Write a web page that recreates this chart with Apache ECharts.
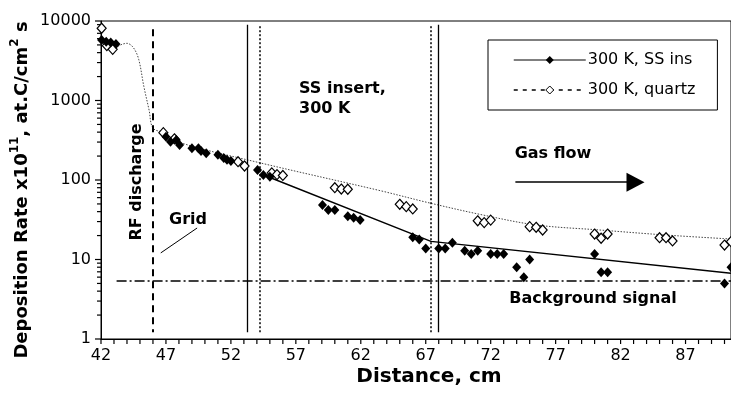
<!DOCTYPE html>
<html><head><meta charset="utf-8">
<script src="https://cdn.jsdelivr.net/npm/echarts@6/dist/echarts.min.js"></script>
<style>html,body{margin:0;padding:0;background:#fff}#c{width:731px;height:396px}</style>
</head><body><div id="c"></div>
<script>
// ---- data ----
const xTickLabels = [42, 47, 52, 57, 62, 67, 72, 77, 82, 87];
const yTickLabels = [1, 10, 100, 1000, 10000];

const ssInsX = [42.05, 42.4, 42.75, 43.15, 47.0, 47.35, 47.8, 48.05, 49.0, 49.5, 49.7, 50.1, 51.0, 51.45, 51.7, 52.0, 54.05, 54.5, 55.0, 59.05, 59.5, 60.0, 61.0, 61.45, 61.95, 66.0, 66.5, 67.0, 68.0, 68.5, 69.05, 70.0, 70.5, 71.0, 72.0, 72.5, 73.0, 74.0, 74.55, 75.0, 80.0, 80.5, 81.0, 90.0, 90.5];
const ssInsY = [5770, 5500, 5360, 5140, 351, 303, 318, 275, 251, 251, 232, 217, 208, 189, 180, 173, 134, 116, 110, 48.5, 42, 42, 35, 33.5, 31.5, 19.0, 17.9, 13.8, 13.8, 13.8, 16.2, 12.9, 11.7, 12.9, 11.7, 11.7, 11.7, 8.0, 6.0, 10.0, 11.7, 6.9, 6.9, 5.0, 8.0];

const quartzX = [42.05, 42.45, 42.9, 46.8, 47.65, 52.55, 53.05, 55.15, 55.55, 56.0, 60.0, 60.5, 61.0, 65.0, 65.5, 66.0, 71.0, 71.5, 72.0, 75.0, 75.5, 76.0, 80.0, 80.5, 81.0, 85.0, 85.5, 86.0, 90.0, 90.5];
const quartzY = [8090, 4900, 4400, 394, 330, 170, 150, 123, 117, 114, 80, 77, 76.5, 49.5, 46.2, 43.2, 30.7, 29.1, 31.3, 25.9, 25.4, 23.5, 20.9, 18.5, 20.9, 18.8, 18.8, 17.1, 15.2, 16.8];

const ssFitX = [55.1, 67.4, 90.5];
const ssFitY = [106, 16.9, 6.7];

const quartzFitX = [42.9, 43.5, 44.0, 44.5, 44.9, 45.3, 45.7, 46.0, 46.8, 48.1, 54.2, 63.5, 67.3, 71.4, 75.5, 80.4, 85.5, 90.5];
const quartzFitY = [4400, 5000, 5240, 4600, 3300, 1500, 760, 450, 394, 295, 165, 73.4, 51.4, 36.3, 27.2, 23.5, 20.3, 18.1];

// annotation positions (data units)
const rfGridX = 46.0;
const ssInsertStartSolidX = 53.25;
const ssInsertStartDotX = 54.25;
const ssInsertEndDotX = 67.35;
const ssInsertEndSolidX = 68.0;
const backgroundLevel = 5.37;
const gasFlowArrow = { x0: 73.9, x1: 83.15, y: 94 };
const gridPointer = { x0: 46.6, y0: 12.1, x1: 49.4, y1: 24.9 };

// ---- helpers ----
const zip = (a, b) => a.map((v, i) => [v, b[i]]);
const xMinorTicks = [];
for (let v = 42; v <= 90; v++) xMinorTicks.push(v);
const yMinorTicks = [];
[1, 10, 100, 1000].forEach(d => { for (let k = 2; k <= 9; k++) yMinorTicks.push(d * k); });

const FONT = 'DejaVu Sans';
const black = '#000';
const vTop = 9000, vBot = 1.22;

const chart = echarts.init(document.getElementById('c'), null, { renderer: 'canvas' });

const boldText = (txt, x, y, align, size, rot) => ({
  type: 'text', x: x, y: y, rotation: rot || 0,
  style: { text: txt, fill: black, font: 'bold ' + (size || 16) + 'px "' + FONT + '"', textAlign: align || 'center', textVerticalAlign: 'middle' }
});

const textGraphic = [
  boldText('SS insert,', 299, 89, 'left'),
  boldText('300 K', 299, 109, 'left'),
  boldText('RF discharge', 137, 182, 'center', 16, Math.PI / 2),
  boldText('Grid', 188, 220),
  boldText('Gas flow', 553, 154),
  boldText('Background signal', 593, 299),
  boldText('Distance, cm', 429, 377, 'center', 20),
  {
    type: 'text', x: 20, y: 190, rotation: Math.PI / 2,
    style: {
      text: '{b|Deposition Rate x10}{s|11}{b|, at.C/cm}{s|2}{b| s}',
      textAlign: 'center', textVerticalAlign: 'middle', fill: black,
      rich: {
        b: { fontFamily: FONT, fontWeight: 'bold', fontSize: 18, lineHeight: 22, verticalAlign: 'bottom', fill: black },
        s: { fontFamily: FONT, fontWeight: 'bold', fontSize: 12, lineHeight: 22, verticalAlign: 'top', fill: black }
      }
    }
  }
];

chart.setOption({
  backgroundColor: '#fff',
  animation: false,
  grid: { left: 101, right: -1, top: 21, bottom: 57, show: true, borderColor: black, borderWidth: 1, backgroundColor: 'transparent' },
  legend: {
    left: 488, top: 40, orient: 'vertical',
    padding: [12, 22, 12, 25], itemGap: 14,
    itemWidth: 72, itemHeight: 10,
    borderColor: black, borderWidth: 1, backgroundColor: '#fff',
    selectedMode: false,
    textStyle: { fontFamily: FONT, fontSize: 16, color: black, padding: [0, 0, 0, -3] },
    data: [
      { name: '300 K, SS ins', itemStyle: { color: black }, lineStyle: { type: 'solid', width: 1, color: black, opacity: 1 } },
      { name: '300 K, quartz', itemStyle: { color: '#fff', borderColor: black, borderWidth: 1 }, lineStyle: { type: [4, 5], width: 1.5, color: black, opacity: 1 } }
    ]
  },
  xAxis: {
    type: 'value', min: 42, max: 90.5,
    axisLine: { lineStyle: { color: black, width: 1 } },
    axisTick: { show: false },
    axisLabel: { customValues: xTickLabels, fontFamily: FONT, fontSize: 16, color: black, margin: 9 },
    splitLine: { show: false }
  },
  yAxis: {
    type: 'log', min: 1, max: 10000, logBase: 10,
    axisLine: { show: true, lineStyle: { color: black, width: 1 } },
    axisTick: { show: false },
    axisLabel: { customValues: yTickLabels, formatter: v => String(Math.round(v)), fontFamily: FONT, fontSize: 16, color: black, margin: 10 },
    splitLine: { show: false }
  },
  series: [
    {
      name: '300 K, SS ins', type: 'line', data: zip(ssInsX, ssInsY),
      symbol: 'diamond', symbolSize: [9, 10], showAllSymbol: true,
      itemStyle: { color: black }, lineStyle: { width: 0, opacity: 0 }, z: 6
    },
    {
      name: '300 K, quartz', type: 'line', data: zip(quartzX, quartzY),
      symbol: 'diamond', symbolSize: [9, 10], showAllSymbol: true,
      itemStyle: { color: '#fff', borderColor: black, borderWidth: 1.2 }, lineStyle: { width: 0, opacity: 0 }, z: 5
    },
    {
      name: 'ssFit', type: 'line', data: zip(ssFitX, ssFitY), showSymbol: false, silent: true,
      lineStyle: { color: black, width: 1.4, type: 'solid' }, z: 3
    },
    {
      name: 'quartzFit', type: 'line', data: zip(quartzFitX, quartzFitY), showSymbol: false, silent: true, smooth: 0.35,
      lineStyle: { color: '#444', width: 1, type: [1.5, 1.5] }, z: 3
    },
    {
      name: 'xTicks', type: 'custom', clip: false, data: xMinorTicks.map(v => [v, 1]),
      renderItem: function (params, api) {
        const p = api.coord([api.value(0), api.value(1)]);
        return { type: 'line', shape: { x1: p[0], y1: p[1], x2: p[0], y2: p[1] + 5 }, style: { stroke: black, lineWidth: 1.2 } };
      }
    },
    {
      name: 'annotations', type: 'line', data: [], silent: true, z: 4,
      markLine: {
        silent: true, symbol: 'none', label: { show: false }, animation: false,
        data: [
          [{ coord: [rfGridX, 7900], lineStyle: { color: black, width: 2, type: [7, 5] } }, { coord: [rfGridX, vBot] }],
          [{ coord: [ssInsertStartSolidX, vTop], lineStyle: { color: black, width: 1.3, type: 'solid' } }, { coord: [ssInsertStartSolidX, vBot] }],
          [{ coord: [ssInsertStartDotX, 8600], lineStyle: { color: black, width: 1.5, type: [2, 2] } }, { coord: [ssInsertStartDotX, vBot] }],
          [{ coord: [ssInsertEndDotX, 8600], lineStyle: { color: black, width: 1.5, type: [2, 2] } }, { coord: [ssInsertEndDotX, vBot] }],
          [{ coord: [ssInsertEndSolidX, vTop], lineStyle: { color: black, width: 1.3, type: 'solid' } }, { coord: [ssInsertEndSolidX, vBot] }],
          [{ coord: [43.2, backgroundLevel], lineStyle: { color: black, width: 1.5, type: [10, 3, 2, 3] } }, { coord: [90.5, backgroundLevel] }],
          [{ coord: [gridPointer.x0, gridPointer.y0], lineStyle: { color: black, width: 1, type: 'solid' } }, { coord: [gridPointer.x1, gridPointer.y1] }],
          [{ coord: [gasFlowArrow.x0, gasFlowArrow.y], symbol: 'none', lineStyle: { color: black, width: 1.5, type: 'solid' } },
           { coord: [gasFlowArrow.x1, gasFlowArrow.y], symbol: 'triangle', symbolSize: [19, 18], itemStyle: { color: black } }]
        ]
      }
    }
  ]
});

// y-axis ticks (log spaced), placed through the chart's own scale
const yTickGraphic = [];
yTickLabels.concat(yMinorTicks).forEach(v => {
  const p = chart.convertToPixel({ gridIndex: 0 }, [42, v]);
  const len = yTickLabels.indexOf(v) >= 0 ? 6 : 4;
  yTickGraphic.push({ type: 'line', shape: { x1: p[0] - len, y1: p[1], x2: p[0], y2: p[1] }, style: { stroke: black, lineWidth: 1.2 } });
});
chart.setOption({ graphic: textGraphic.concat(yTickGraphic) });
</script></body></html>
